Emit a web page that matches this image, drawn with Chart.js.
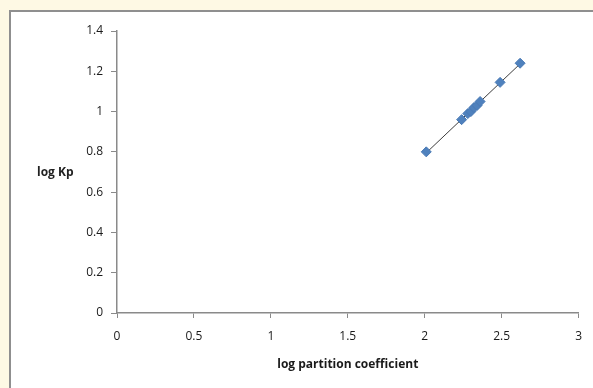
<!DOCTYPE html>
<html>
<head>
<meta charset="utf-8">
<script src="https://cdn.jsdelivr.net/npm/chart.js@4/dist/chart.umd.min.js"></script>
<style>
  html, body { margin: 0; padding: 0; }
  body { width: 593px; height: 388px; background: #fef9e4; position: relative; overflow: hidden; }
  #frame { position: absolute; left: 9px; top: 10px; width: 620px; height: 420px;
           background: #fff; border: 2px solid #8f8f8f; box-sizing: border-box; }
  #chart { position: absolute; left: 0; top: 0; }
  #ylab { position: absolute; left: 37px; top: 163px; font: bold 12px "Open Sans", "Liberation Sans", sans-serif; color: #222; }
</style>
</head>
<body>
<div id="frame"></div>
<canvas id="chart" width="593" height="388"></canvas>
<div id="ylab">log Kp</div>
<script>
/* valores */
var partitionLog = [2.01, 2.24, 2.28, 2.30, 2.32, 2.34, 2.36, 2.49, 2.62];
var kpLog = [0.80, 0.96, 0.99, 1.00, 1.02, 1.03, 1.05, 1.145, 1.24];
var xTicks = [0, 0.5, 1, 1.5, 2, 2.5, 3];
var yTicks = [0, 0.2, 0.4, 0.6, 0.8, 1, 1.2, 1.4];

var points = partitionLog.map(function (x, i) { return { x: x, y: kpLog[i] }; });

/* línea de tendencia (mínimos cuadrados, como en Excel) */
function trend(xs, ys) {
  var n = xs.length, sx = 0, sy = 0, sxy = 0, sxx = 0;
  for (var i = 0; i < n; i++) { sx += xs[i]; sy += ys[i]; sxy += xs[i] * ys[i]; sxx += xs[i] * xs[i]; }
  var m = (n * sxy - sx * sy) / (n * sxx - sx * sx);
  var b = (sy - m * sx) / n;
  var x0 = Math.min.apply(null, xs), x1 = Math.max.apply(null, xs);
  return [{ x: x0, y: m * x0 + b }, { x: x1, y: m * x1 + b }];
}

function plain(v) { return String(v); }

var tickFont = { family: '"Open Sans", "Liberation Sans", sans-serif', size: 12 };
var axisColor = '#8a8a8a';

new Chart(document.getElementById('chart'), {
  type: 'scatter',
  data: {
    datasets: [{
      data: trend(partitionLog, kpLog),
      showLine: true,
      borderColor: '#3c3c3c',
      borderWidth: 1,
      pointRadius: 0,
      order: 2
    }, {
      data: points,
      pointStyle: 'rectRot',
      pointRadius: 5,
      backgroundColor: '#4f81bd',
      borderColor: '#4a7ab5',
      borderWidth: 1,
      order: 1
    }]
  },
  options: {
    responsive: false,
    animation: false,
    layout: { padding: { left: 0, right: 14, top: 31, bottom: 0 } },
    plugins: { legend: { display: false }, tooltip: { enabled: false } },
    scales: {
      x: {
        type: 'linear', min: 0, max: 3,
        afterBuildTicks: function (s) { s.ticks = xTicks.map(function (v) { return { value: v }; }); },
        afterFit: function (s) { s.height = 75; },
        grid: { drawOnChartArea: false, drawTicks: true, tickLength: 5, color: axisColor },
        border: { color: axisColor, width: 1.5 },
        ticks: { font: tickFont, color: '#1a1a1a', padding: 11, maxRotation: 0, callback: plain },
        title: { display: true, text: 'log partition coefficient', color: '#1a1a1a',
                 font: { family: '"Open Sans", "Liberation Sans", sans-serif', size: 12, weight: 'bold' },
                 padding: { top: 4, bottom: 16 } }
      },
      y: {
        type: 'linear', min: 0, max: 1.4,
        afterBuildTicks: function (s) { s.ticks = yTicks.map(function (v) { return { value: v }; }); },
        afterFit: function (s) { s.width = 117; },
        grid: { drawOnChartArea: false, drawTicks: true, tickLength: 6, color: axisColor },
        border: { color: axisColor, width: 1.5 },
        ticks: { font: tickFont, color: '#1a1a1a', padding: 8, callback: plain }
      }
    }
  }
});
</script>
</body>
</html>
